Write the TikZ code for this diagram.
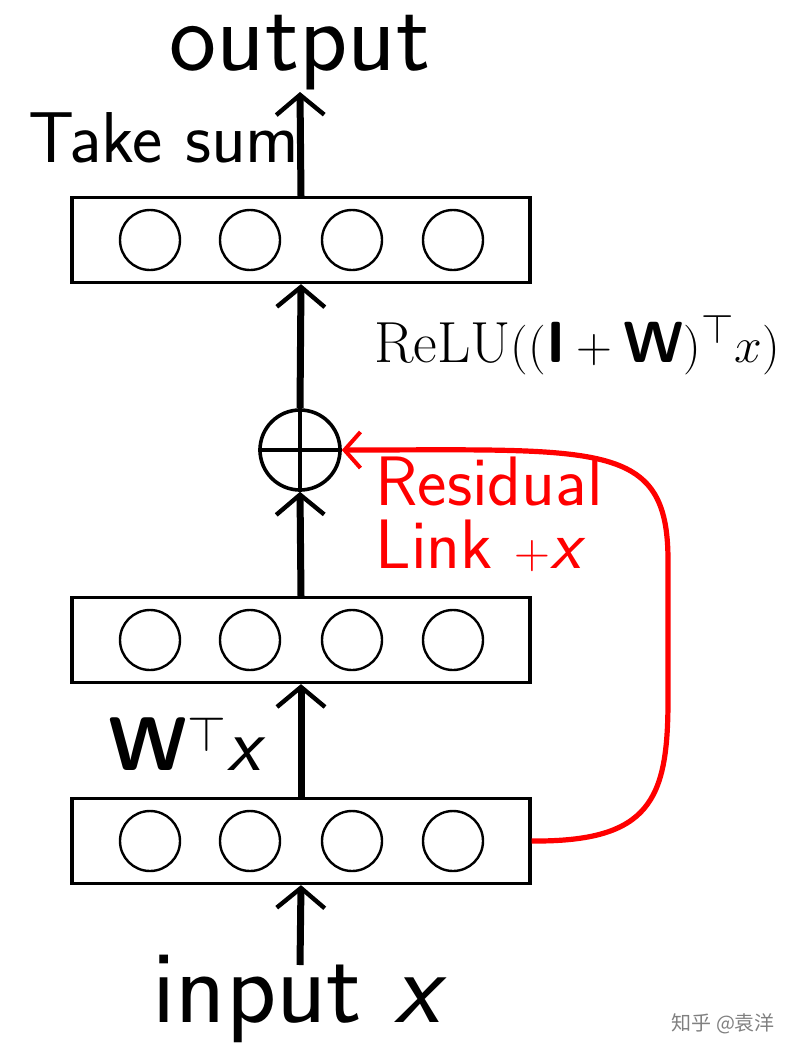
\documentclass[tikz,border=0pt]{standalone}
\usepackage{fontspec}
\usetikzlibrary{arrows.meta}
\newfontfamily\cjk{Noto Sans CJK SC}
\newfontfamily\lmss{Latin Modern Sans}
\begin{document}
\begin{tikzpicture}[x=0.5pt,y=-0.5pt,
  box/.style={draw,line width=1.6pt,minimum width=229pt,minimum height=42.5pt,inner sep=0pt},
  unit/.style={draw,line width=1.2pt,circle,minimum size=30pt,inner sep=0pt},
  flow/.style={line width=3.5pt,-{Straight Barb[length=10pt,width=24pt,line width=2.2pt]}},
  big/.style={font=\lmss\fontsize{#1}{#1}\selectfont,inner sep=0pt}]
\useasboundingbox (0,0) rectangle (802,1055);
\foreach \n/\y in {top/240,mid/640,bot/841}{
  \node[box] (\n) at (301,\y) {};
  \foreach \i/\x in {1/150,2/250,3/352,4/453}
    \node[unit] (\n\i) at (\x,\y) {};
}
\node[draw,circle,line width=1.8pt,minimum size=40pt,inner sep=0pt] (plus) at (300,450) {};
\draw[line width=1.8pt] (plus.north)--(plus.south) (plus.west)--(plus.east);
\node[big=50pt,anchor=base] (out) at (300,70) {output};
\node[big=52pt,anchor=base] (in) at (300,1022) {input \textit{x}};
\coordinate (o) at (300,92);
\coordinate (i) at (300,965);
\draw[flow] (i)--(bot.south);
\draw[flow] (bot.north)--(mid.south);
\draw[flow] (mid.north)--(plus.south);
\draw[flow] (plus.north)--(top.south);
\draw[flow] (top.north)--(o);
\node[big=36pt,anchor=base west] (ts) at (28,162) {Take sum};
\node[anchor=base,inner sep=0pt,font=\fontsize{29pt}{29pt}\selectfont] (relu) at (577,362) {$\mathrm{ReLU}((\textsf{\bfseries I}+\textsf{\bfseries W})^{\top}x)$};
\node[big=38pt,anchor=base west] (wx) at (108,770) {\textbf{W}$^{\top}$\textit{x}};
\node[big=35pt,anchor=base west,text=red] (res) at (375,505) {Residual};
\node[big=35pt,anchor=base west,text=red] (link) at (375,568) {Link {\fontsize{35pt}{35pt}\selectfont$+$}\textit{x}};
\draw[red,line width=2.6pt,-{Straight Barb[length=8pt,width=18pt,line width=2pt]}]
  (bot.east) .. controls (650,842) and (668,800) .. (668,700)
  -- (668,560) .. controls (668,440) and (600,450) .. (plus.east);
\node[anchor=base east,text=gray,font=\cjk\fontsize{10pt}{10pt}\selectfont] (wm) at (782,1030) {知乎 @袁洋};
\end{tikzpicture}
\end{document}
